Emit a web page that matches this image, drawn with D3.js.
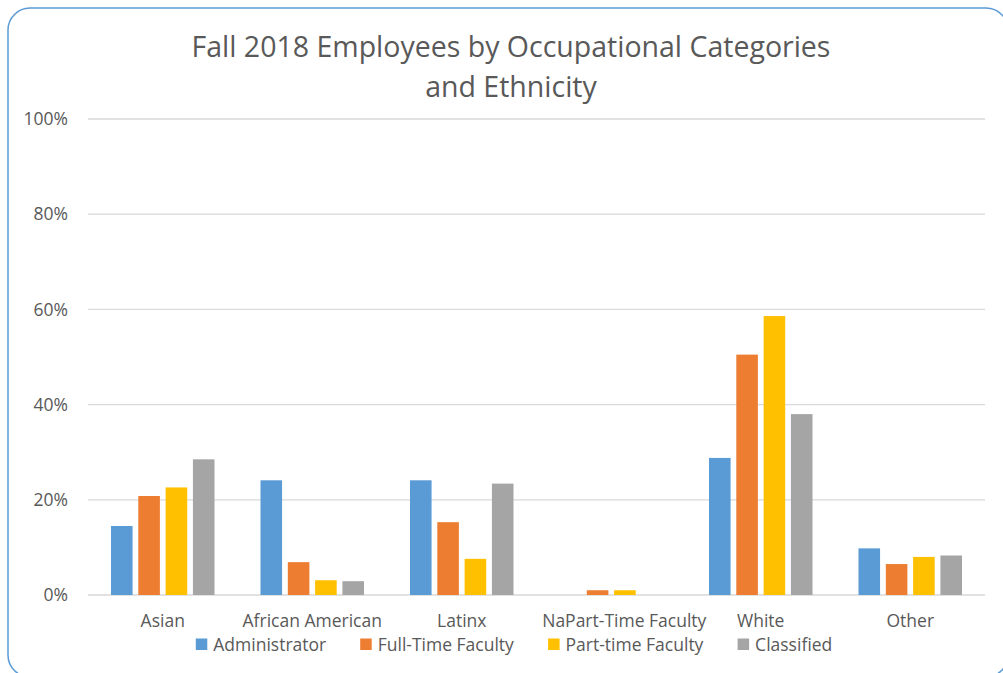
<!DOCTYPE html>
<html>
<head>
<meta charset="utf-8">
<script src="https://cdn.jsdelivr.net/npm/d3@7"></script>
<style>
  body { margin: 0; background: #fff; }
  svg { display: block; font-family: "Open Sans", "Noto Sans", sans-serif; }
</style>
</head>
<body>
<svg id="chart" width="1003" height="673"></svg>
<script>
// Chart data
const categories = ["Asian", "African American", "Latinx", "NaPart-Time Faculty", "White", "Other"];
const seriesNames = ["Administrator", "Full-Time Faculty", "Part-time Faculty", "Classified"];
const administrator = [14.5, 24.1, 24.1, 0, 28.8, 9.8];
const fullTimeFaculty = [20.8, 6.9, 15.3, 1.0, 50.5, 6.5];
const partTimeFaculty = [22.6, 3.1, 7.6, 1.0, 58.6, 8.0];
const classified = [28.5, 2.9, 23.4, 0, 38.0, 8.3];
const yTicks = [0, 20, 40, 60, 80, 100];
const colors = ["#5B9BD5", "#ED7D31", "#FFC000", "#A5A5A5"];

const seriesValues = [administrator, fullTimeFaculty, partTimeFaculty, classified];
const rows = categories.map((c, i) => ({
    category: c,
    values: seriesNames.map((s, j) => ({ series: s, value: seriesValues[j][i] }))
}));

const svg = d3.select("#chart");
const textColor = "#595959";
const labelSize = "17.5px";

// Outer rounded border
svg.append("rect")
    .attr("x", 8).attr("y", 8)
    .attr("width", 1000).attr("height", 669)
    .attr("rx", 22).attr("ry", 22)
    .attr("fill", "#fff")
    .attr("stroke", "#5B9BD5")
    .attr("stroke-width", 1.5);

// Title
const title = svg.append("text")
    .attr("text-anchor", "middle")
    .attr("fill", textColor)
    .style("font-size", "28.5px");
title.append("tspan").attr("x", 511).attr("y", 57).text("Fall 2018 Employees by Occupational Categories");
title.append("tspan").attr("x", 511).attr("y", 97).text("and Ethnicity");

const plot = { left: 88, right: 985, top: 119, bottom: 595 };

const x0 = d3.scaleBand()
    .domain(categories)
    .range([plot.left, plot.right])
    .padding(0);

const x1 = d3.scaleBand()
    .domain(seriesNames)
    .range([23, x0.bandwidth() - 23])
    .paddingInner(0.21)
    .paddingOuter(0);

const y = d3.scaleLinear()
    .domain([0, 100])
    .range([plot.bottom, plot.top]);

// Gridlines
svg.append("g")
    .selectAll("line")
    .data(yTicks)
    .join("line")
    .attr("x1", plot.left).attr("x2", plot.right)
    .attr("y1", d => y(d)).attr("y2", d => y(d))
    .attr("stroke", "#D9D9D9")
    .attr("stroke-width", 1.3);

// Y axis labels
const yAxis = svg.append("g")
    .attr("transform", `translate(${plot.left}, 0)`)
    .call(d3.axisLeft(y).tickValues(yTicks).tickSize(0).tickPadding(20).tickFormat(d => d + "%"));
yAxis.select(".domain").remove();
yAxis.selectAll("text")
    .attr("fill", textColor)
    .style("font-size", labelSize)
    .style("font-family", "'Open Sans', sans-serif");

// Bars
const groups = svg.append("g")
    .selectAll("g")
    .data(rows)
    .join("g")
    .attr("transform", d => `translate(${x0(d.category)}, 0)`);

groups.selectAll("rect")
    .data(d => d.values.filter(v => v.value > 0))
    .join("rect")
    .attr("x", d => x1(d.series))
    .attr("y", d => y(d.value))
    .attr("width", x1.bandwidth())
    .attr("height", d => y(0) - y(d.value))
    .attr("fill", d => colors[seriesNames.indexOf(d.series)]);

// Category labels
const xAxis = svg.append("g")
    .attr("transform", `translate(0, ${plot.bottom})`)
    .call(d3.axisBottom(x0).tickSize(0).tickPadding(0));
xAxis.select(".domain").remove();
xAxis.selectAll("text")
    .attr("y", 32)
    .attr("dy", 0)
    .attr("dx", d => d === "NaPart-Time Faculty" ? 13 : 0)
    .attr("fill", textColor)
    .style("font-size", labelSize)
    .style("font-family", "'Open Sans', sans-serif");

// Legend
const legend = svg.append("g");
const items = legend.selectAll("g")
    .data(seriesNames)
    .join("g");

items.append("rect")
    .attr("width", 11.5).attr("height", 11.5)
    .attr("y", -12.5)
    .attr("fill", (d, i) => colors[i]);

items.append("text")
    .attr("x", 17.5)
    .attr("fill", textColor)
    .style("font-size", labelSize)
    .text(d => d);

const gap = 34;
let offset = 0;
const widths = [];
items.each(function () {
    widths.push(this.getBBox().width);
});
items.attr("transform", (d, i) => {
    const pos = offset;
    offset += widths[i] + gap;
    return `translate(${pos}, 0)`;
});
const totalWidth = offset - gap;
legend.attr("transform", `translate(${514 - totalWidth / 2}, 651)`);
</script>
</body>
</html>
